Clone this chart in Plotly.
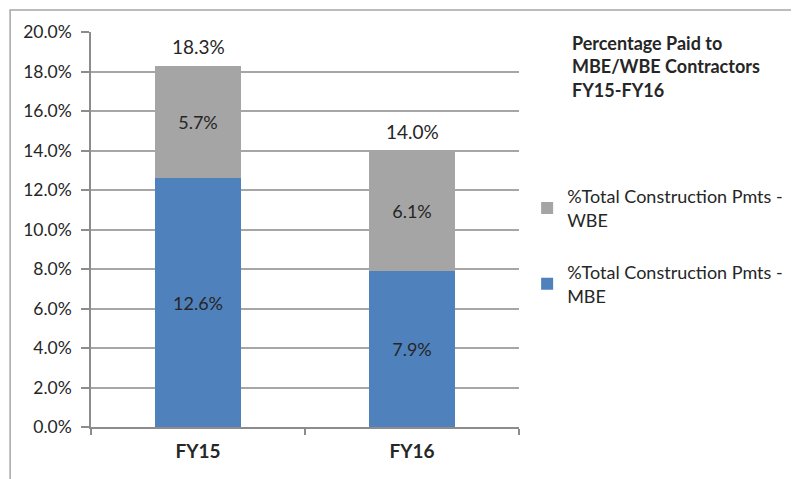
import plotly.graph_objects as go

categories = ["FY15", "FY16"]
mbe_values = [12.6, 7.9]
wbe_values = [5.7, 6.1]
mbe_name = "%Total Construction Pmts -<br>MBE"
wbe_name = "%Total Construction Pmts -<br>WBE"
chart_title = "<b>Percentage Paid to<br>MBE/WBE Contractors<br>FY15-FY16</b>"
y_ticks = [0, 2, 4, 6, 8, 10, 12, 14, 16, 18, 20]

totals = [round(a + b, 1) for a, b in zip(mbe_values, wbe_values)]

FONT = "Lato, 'Open Sans', sans-serif"
TXT = "#262626"

fig = go.Figure()
fig.add_trace(go.Bar(
    x=categories, y=mbe_values, name=mbe_name, legendgroup="mbe", legendrank=2,
    marker=dict(color="#4F81BD", line=dict(width=0)),
    text=[f"{v:.1f}%" for v in mbe_values], textposition="inside",
    insidetextanchor="middle", textangle=0,
    textfont=dict(size=18, color=TXT, family=FONT),
))
fig.add_trace(go.Bar(
    x=categories, y=wbe_values, name=wbe_name, legendgroup="wbe", legendrank=1,
    marker=dict(color="#A5A5A5", line=dict(width=0)),
    text=[f"{v:.1f}%" for v in wbe_values], textposition="inside",
    insidetextanchor="middle", textangle=0,
    textfont=dict(size=18, color=TXT, family=FONT),
))

total_annotations = [
    dict(x=c, y=t, xref="x", yref="y", text=f"{t:.1f}%", showarrow=False,
         yanchor="bottom", yshift=6, font=dict(size=19, color=TXT, family=FONT))
    for c, t in zip(categories, totals)
]

fig.update_layout(
    width=791, height=471,
    margin=dict(l=83, r=280, t=24, b=52, autoexpand=False),
    paper_bgcolor="white", plot_bgcolor="white",
    barmode="stack", bargap=0.6,
    font=dict(family=FONT, color=TXT, size=15),
    showlegend=True,
    legend=dict(
        x=1.019, y=0.63, xanchor="left", yanchor="top",
        traceorder="grouped", tracegroupgap=26,
        font=dict(size=18, color=TXT, family=FONT),
        itemwidth=30, bgcolor="rgba(0,0,0,0)",
    ),
    annotations=[dict(
        text=chart_title, xref="paper", yref="paper",
        x=1.119, y=1.005, xanchor="left", yanchor="top", align="left",
        showarrow=False, font=dict(size=18, color=TXT, family=FONT),
    )] + total_annotations,
    shapes=[dict(
        type="rect", xref="paper", yref="paper",
        x0=-0.189, x1=1.8, y0=-0.3, y1=1.056,
        line=dict(color="#a6a6a6", width=1.5), fillcolor="rgba(0,0,0,0)",
        layer="below",
    )],
)
fig.update_xaxes(
    type="category", showline=True, linecolor="#8c8c8c", linewidth=1.5,
    ticks="outside", tickson="boundaries", ticklen=6, tickcolor="#8c8c8c",
    tickwidth=1.5, ticklabelstandoff=6,
    tickfont=dict(size=19, color=TXT, family=FONT, weight="bold"),
    showgrid=False,
)
fig.update_yaxes(
    range=[0, 20], tickvals=y_ticks, ticktext=[f"{v:.1f}%" for v in y_ticks],
    showline=True, linecolor="#8c8c8c", linewidth=1.5,
    ticks="outside", ticklen=8, tickcolor="#8c8c8c", tickwidth=1.5,
    showgrid=True, gridcolor="#a6a6a6", gridwidth=1.5,
    ticklabelstandoff=6, zeroline=False,
    tickfont=dict(size=17.5, color=TXT, family=FONT),
)

fig.write_html("out.html")
